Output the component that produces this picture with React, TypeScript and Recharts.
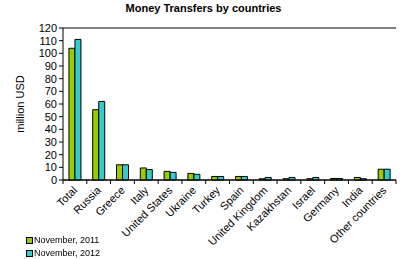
import React from "react";
import {
  BarChart,
  Bar,
  XAxis,
  YAxis,
  CartesianGrid,
  ReferenceLine,
} from "recharts";

const countries = [
  "Total",
  "Russia",
  "Greece",
  "Italy",
  "United States",
  "Ukraine",
  "Turkey",
  "Spain",
  "United Kingdom",
  "Kazakhstan",
  "Israel",
  "Germany",
  "India",
  "Other countries",
];
const nov2011 = [104, 55.5, 12, 9.5, 6.8, 5.2, 2.8, 2.8, 1, 1, 1, 1.2, 2, 8.5];
const nov2012 = [111, 62, 12, 8.3, 6, 4.5, 2.8, 2.8, 2, 2, 2, 1.2, 1, 8.5];
const yTicks = [0, 10, 20, 30, 40, 50, 60, 70, 80, 90, 100, 110, 120];

const GREEN = "#99cc00";
const CYAN = "#33cccc";
const FONT = "'Liberation Sans', Arial, sans-serif";

const data = countries.map((name, i) => ({
  name,
  a: nov2011[i],
  b: nov2012[i],
}));

function CategoryTick(props: any) {
  const { x, y, payload, width, visibleTicksCount, index } = props;
  const bw = width / visibleTicksCount;
  const axisY = y - 8;
  return (
    <g>
      <line x1={x + bw / 2} x2={x + bw / 2} y1={axisY} y2={axisY + 4} stroke="#000" />
      {index === 0 && (
        <line x1={x - bw / 2} x2={x - bw / 2} y1={axisY} y2={axisY + 4} stroke="#000" />
      )}
      <text
        x={x + 3}
        y={y + 3}
        textAnchor="end"
        fontSize={11}
        fontFamily={FONT}
        fill="#000"
        transform={`rotate(-45 ${x + 3} ${y + 3})`}
      >
        {payload.value}
      </text>
    </g>
  );
}

function LegendBox() {
  const items = [
    { label: "November, 2011", color: GREEN },
    { label: "November, 2012", color: CYAN },
  ];
  return (
    <div
      style={{
        position: "absolute",
        left: 26,
        top: 234,
        fontFamily: FONT,
        fontSize: 9,
        lineHeight: "13px",
      }}
    >
      {items.map((it) => (
        <div key={it.label} style={{ display: "flex", alignItems: "center" }}>
          <span
            style={{
              display: "inline-block",
              width: 5,
              height: 5,
              background: it.color,
              border: "1px solid #000",
              marginRight: 1,
            }}
          />
          {it.label}
        </div>
      ))}
    </div>
  );
}

export default function App() {
  return (
    <div
      style={{
        position: "fixed",
        left: 0,
        top: 0,
        width: 407,
        height: 259,
        background: "#fff",
      }}
    >
      <div
        style={{
          position: "absolute",
          left: 0,
          top: 2,
          width: 407,
          textAlign: "center",
          fontFamily: FONT,
          fontWeight: "bold",
          fontSize: 11,
        }}
      >
        Money Transfers by countries
      </div>
      <BarChart
        width={407}
        height={259}
        data={data}
        margin={{ top: 28, right: 11, bottom: 0, left: 0 }}
        barCategoryGap="25%"
        barGap={0}
      >
        <CartesianGrid vertical={false} stroke="#000" />
        <XAxis
          dataKey="name"
          interval={0}
          height={79}
          axisLine={{ stroke: "#000" }}
          tickLine={false}
          tick={<CategoryTick />}
        />
        <YAxis
          yAxisId="l"
          width={63}
          domain={[0, 120]}
          ticks={yTicks}
          interval={0}
          axisLine={{ stroke: "#000" }}
          tickLine={{ stroke: "#000" }}
          tickSize={4}
          tick={{ fontSize: 11, fontFamily: FONT, fill: "#000" }}
          label={{
            value: "million USD",
            angle: -90,
            position: "insideLeft",
            offset: 20,
            style: { fontSize: 11, fontFamily: FONT, fill: "#000", textAnchor: "middle" },
          }}
        />
        <YAxis
          yAxisId="r"
          orientation="right"
          width={0}
          domain={[0, 120]}
          ticks={yTicks}
          axisLine={{ stroke: "#808080" }}
          tick={false}
          tickLine={false}
        />
        <ReferenceLine yAxisId="l" y={120} stroke="#808080" />
        <Bar
          yAxisId="l"
          dataKey="a"
          name="November, 2011"
          fill={GREEN}
          stroke="#000"
          strokeWidth={1}
          isAnimationActive={false}
        />
        <Bar
          yAxisId="l"
          dataKey="b"
          name="November, 2012"
          fill={CYAN}
          stroke="#000"
          strokeWidth={1}
          isAnimationActive={false}
        />
      </BarChart>
      <LegendBox />
    </div>
  );
}
